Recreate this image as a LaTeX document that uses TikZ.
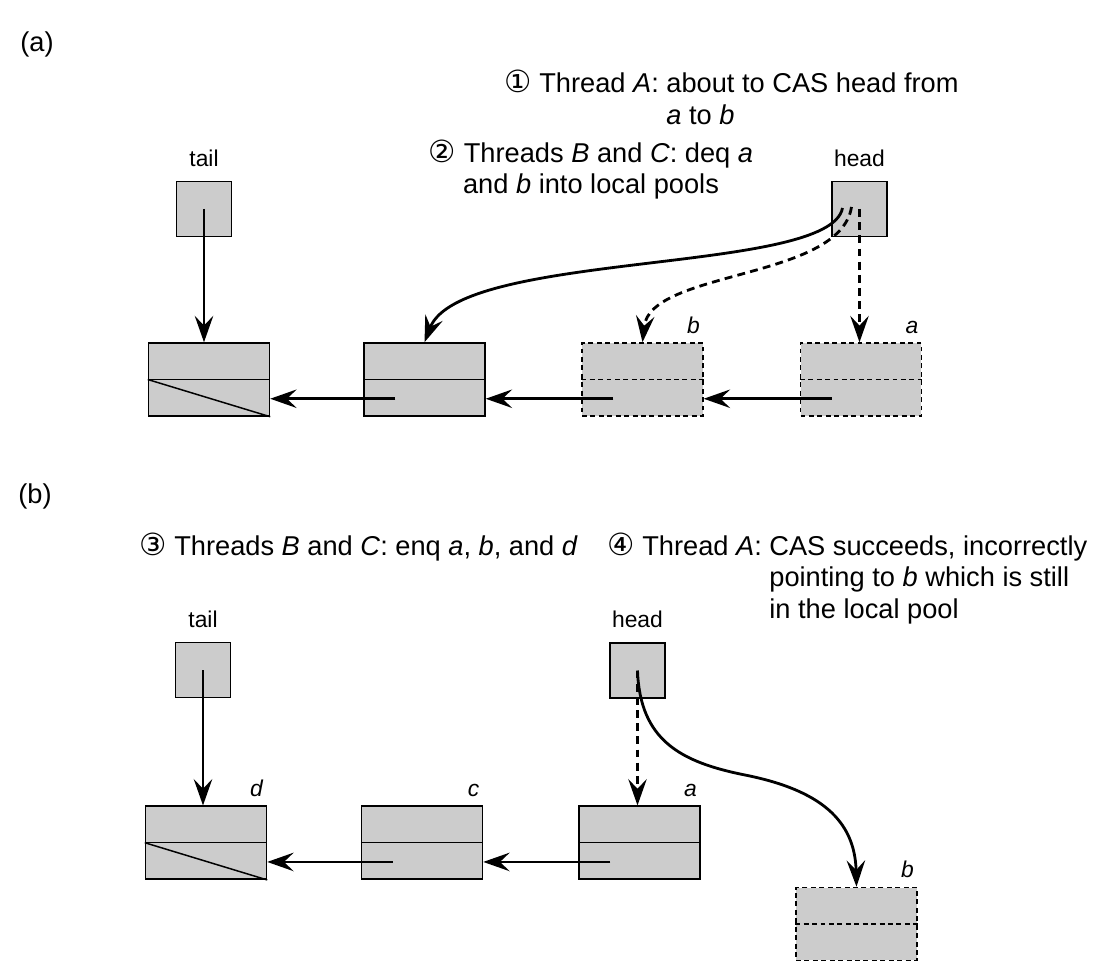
\documentclass[tikz,border=0pt]{standalone}
\usepackage{fontspec}
\setmainfont{Liberation Sans}
\newfontfamily\circfont{DejaVu Sans}[Scale=1.12]
\usetikzlibrary{arrows.meta, calc, positioning}
\definecolor{cellgray}{gray}{0.8}

\tikzset{
  cell/.style={draw, fill=cellgray, line width=0.85pt, minimum width=2.42cm, minimum height=1.46cm, inner sep=0pt},
  freecell/.style={cell, dash pattern=on 2.8pt off 2pt},
  ptrbox/.style={draw, fill=cellgray, line width=0.85pt, minimum size=1.1cm, inner sep=0pt},
  lbl/.style={font=\fontsize{13}{15}\selectfont, inner sep=0pt},
  ptr/.style={line width=1.6pt, -{Stealth[length=15pt, width=10.5pt, inset=5.5pt]}},
  oldptr/.style={ptr, dash pattern=on 4.5pt off 3pt},
}

\begin{document}
\begin{tikzpicture}[x=0.02cm, y=-0.02cm, font=\fontsize{15.5}{18}\selectfont]
  \useasboundingbox (0,0) rectangle (1117,980);

  % (a) thread A is about to CAS head
  \node[anchor=base west, inner sep=0pt] (parta) at (20,52) {(a)};
  \node[anchor=base west, inner sep=0pt] (stepone) at (504,93)
    {{\circfont ①} Thread \textit{A}: \begin{tabular}[t]{@{}l@{}}about to CAS head from\\\textit{a} to \textit{b}\end{tabular}};
  \node[anchor=base, align=center, inner sep=0pt] (steptwo) at (591,194)
    {{\circfont ②} Threads \textit{B} and \textit{C}: deq \textit{a}\\and \textit{b} into local pools};

  \node[ptrbox] (tailA) at (204,209) {};
  \node[ptrbox] (headA) at (859.5,209) {};
  \node[lbl, above=8pt of tailA] (tailAname) {tail};
  \node[lbl, above=8pt of headA] (headAname) {head};

  \node[cell] (dA) at (209,379.5) {};
  \node[cell] (cA) at (424.5,379.5) {};
  \node[freecell, label={[lbl, anchor=base east, xshift=-2pt, yshift=5pt]north east:\textit{b}}] (bA) at (642.5,379.5) {};
  \node[freecell, label={[lbl, anchor=base east, xshift=-2pt, yshift=5pt]north east:\textit{a}}] (aA) at (861,379.5) {};

  % (b) thread A's CAS succeeds
  \node[anchor=base west, inner sep=0pt] (partb) at (18,503) {(b)};
  \node[anchor=base west, inner sep=0pt] (stepthree) at (139,555)
    {{\circfont ③} Threads \textit{B} and \textit{C}: enq \textit{a}, \textit{b}, and \textit{d}};
  \node[anchor=base west, inner sep=0pt] (stepfour) at (607,555)
    {{\circfont ④} Thread \textit{A}: \begin{tabular}[t]{@{}l@{}}CAS succeeds, incorrectly\\pointing to \textit{b} which is still\\in the local pool\end{tabular}};

  \node[ptrbox] (tailB) at (203,670) {};
  \node[ptrbox] (headB) at (637.5,670.5) {};
  \node[lbl, above=8pt of tailB] (tailBname) {tail};
  \node[lbl, above=8pt of headB] (headBname) {head};

  \node[cell, label={[lbl, anchor=base east, xshift=-2pt, yshift=5pt]north east:\textit{d}}] (dB) at (206,842.7) {};
  \node[cell, label={[lbl, anchor=base east, xshift=-2pt, yshift=5pt]north east:\textit{c}}] (cB) at (422,842.7) {};
  \node[cell, label={[lbl, anchor=base east, xshift=-2pt, yshift=5pt]north east:\textit{a}}] (aB) at (639.5,842.7) {};
  \node[freecell, label={[lbl, anchor=base east, xshift=-2pt, yshift=5pt]north east:\textit{b}}] (bB) at (856.5,924) {};

  % cell dividers
  \foreach \n in {dA,cA,dB,cB,aB}
    \draw[line width=0.85pt] (\n.west) -- (\n.east);
  \foreach \n in {bA,aA,bB}
    \draw[line width=0.85pt, dash pattern=on 2.8pt off 2pt] (\n.west) -- (\n.east);
  \draw[line width=0.85pt] (dA.west) -- (dA.south east);
  \draw[line width=0.85pt] (dB.west) -- (dB.south east);

  % next pointers
  \coordinate (cAnext) at ($(cA.south west)+(32,-18)$);
  \coordinate (bAnext) at ($(bA.south west)+(32,-18)$);
  \coordinate (aAnext) at ($(aA.south west)+(32,-18)$);
  \coordinate (cBnext) at ($(cB.south west)+(32,-18)$);
  \coordinate (aBnext) at ($(aB.south west)+(32,-18)$);
  \draw[ptr] (cAnext) -- (dA.east |- cAnext);
  \draw[ptr] (bAnext) -- (cA.east |- bAnext);
  \draw[ptr] (aAnext) -- (bA.east |- aAnext);
  \draw[ptr] (cBnext) -- (dB.east |- cBnext);
  \draw[ptr] (aBnext) -- (cB.east |- aBnext);

  % tail and head
  \draw[ptr] (tailA.center) -- (tailA.center |- dA.north);
  \draw[oldptr] (headA.center) -- (headA.center |- aA.north);
  \draw[oldptr] ($(headA.center)+(-8,-2)$) .. controls (840,280) and (650,270) .. (bA.north);
  \draw[ptr] ($(headA.center)+(-17,-1)$) .. controls (830,275) and (460,250) .. (cA.north);

  \draw[ptr] (tailB.center) -- (tailB.center |- dB.north);
  \draw[oldptr] (headB.center) -- (headB.center |- aB.north);
  \draw[ptr] (headB.center) .. controls (640,740) and (680,762) .. (745,775)
    .. controls (820,790) and (855,820) .. (bB.north);
\end{tikzpicture}
\end{document}
